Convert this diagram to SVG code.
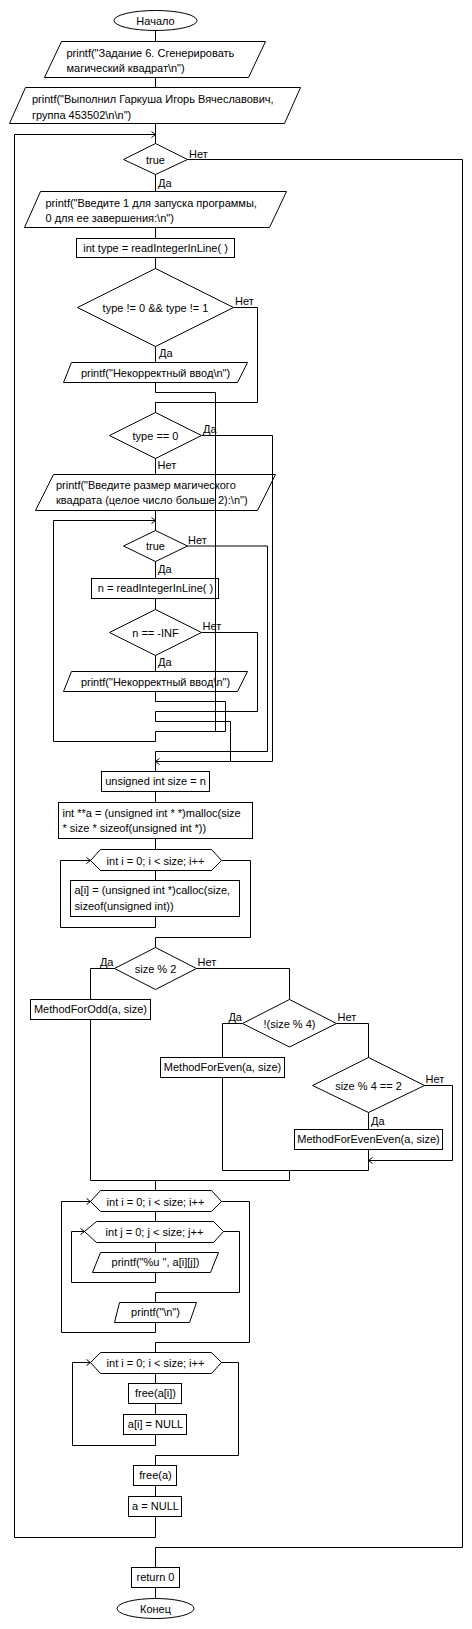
<svg xmlns="http://www.w3.org/2000/svg" width="472" height="1629" viewBox="0 0 472 1629">
<defs>
<style>
.s{fill:none;stroke:#000;stroke-width:1}
.c{fill:none;stroke:#000;stroke-width:1}
text{font-family:"Liberation Sans",Arial,sans-serif;font-size:11px;fill:#000}
.m{text-anchor:middle}
.e{text-anchor:end}
</style>
<marker id="arr" viewBox="-5 -4 6 8" refX="0" refY="0" markerWidth="6" markerHeight="8" markerUnits="userSpaceOnUse" orient="auto">
<path d="M-4,-3 L0,0 L-4,3" fill="none" stroke="#000" stroke-width="1"/>
</marker>
</defs>
<rect x="0" y="0" width="472" height="1629" fill="#fff"/>

<g id="connectors">
<polyline class="c" points="155.5,30.5 155.5,41.5"/>
<polyline class="c" points="155.5,77.5 155.5,87.5"/>
<polyline class="c" points="155.5,123.5 155.5,143.5"/>
<polyline class="c" points="155.5,174.5 155.5,191.5"/>
<polyline class="c" points="155.5,227.5 155.5,238.5"/>
<polyline class="c" points="155.5,257.5 155.5,268.5"/>
<polyline class="c" points="155.5,346.5 155.5,362.5"/>
<polyline class="c" points="233.5,307.5 257.5,307.5 257.5,402.5 155.5,402.5 155.5,412.5"/>
<polyline class="c" points="155.5,382.5 155.5,392.5 215.5,392.5 215.5,731.5"/>
<polyline class="c" points="201.5,435.5 272.5,435.5 272.5,761.5 155.5,761.5" marker-end="url(#arr)"/>
<polyline class="c" points="155.5,458.5 155.5,474.5"/>
<polyline class="c" points="155.5,510.5 155.5,530.5"/>
<polyline class="c" points="187.5,546 267.5,546 267.5,751.5 155.5,751.5"/>
<polyline class="c" points="155.5,561.5 155.5,578.5"/>
<polyline class="c" points="155.5,598.5 155.5,609.5"/>
<polyline class="c" points="201.5,632.5 257.5,632.5 257.5,711.5 155.5,711.5 155.5,721.5 230.5,721.5 230.5,761.5"/>
<polyline class="c" points="155.5,655.5 155.5,671.5"/>
<polyline class="c" points="155.5,691.5 155.5,701.5 225.5,701.5 225.5,731.5"/>
<polyline class="c" points="225.5,731.5 155.5,731.5 155.5,741.5 53.5,741.5 53.5,520.5 155.5,520.5" marker-end="url(#arr)"/>
<polyline class="c" points="155.5,751.5 155.5,771.5"/>
<polyline class="c" points="155.5,791.5 155.5,802.5"/>
<polyline class="c" points="155.5,838.5 155.5,849.5"/>
<polyline class="c" points="155.5,870.5 155.5,880.5"/>
<polyline class="c" points="155.5,916.5 155.5,927.5 60.5,927.5 60.5,860.5 90.5,860.5" marker-end="url(#arr)"/>
<polyline class="c" points="221.5,860.5 250.5,860.5 250.5,937.5 155.5,937.5 155.5,947.5"/>
<polyline class="c" points="114.5,968.5 90.5,968.5 90.5,999.5"/>
<polyline class="c" points="196.5,968.5 289.5,968.5 289.5,999.5"/>
<polyline class="c" points="90.5,1019.5 90.5,1180.5 289.5,1180.5"/>
<polyline class="c" points="242.5,1023.5 222.5,1023.5 222.5,1057.5"/>
<polyline class="c" points="336.5,1023.5 368.5,1023.5 368.5,1057.5"/>
<polyline class="c" points="222.5,1077.5 222.5,1170.5 368.5,1170.5"/>
<polyline class="c" points="424.5,1085.5 452.5,1085.5 452.5,1160.5 368.5,1160.5" marker-end="url(#arr)"/>
<polyline class="c" points="368.5,1112.5 368.5,1129.5"/>
<polyline class="c" points="368.5,1149.5 368.5,1170.5"/>
<polyline class="c" points="289.5,1170.5 289.5,1180.5"/>
<polyline class="c" points="155.5,1180.5 155.5,1190.5"/>
<polyline class="c" points="155.5,1211.5 155.5,1221.5"/>
<polyline class="c" points="155.5,1242.5 155.5,1252.5"/>
<polyline class="c" points="155.5,1272.5 155.5,1282.5 71.5,1282.5 71.5,1231.5 84.5,1231.5" marker-end="url(#arr)"/>
<polyline class="c" points="223.5,1231.5 239.5,1231.5 239.5,1292.5 155.5,1292.5 155.5,1302.5"/>
<polyline class="c" points="155.5,1322.5 155.5,1332.5 61.5,1332.5 61.5,1201.5 90.5,1201.5" marker-end="url(#arr)"/>
<polyline class="c" points="221.5,1201.5 249.5,1201.5 249.5,1342.5 155.5,1342.5 155.5,1352.5"/>
<polyline class="c" points="155.5,1373.5 155.5,1383.5"/>
<polyline class="c" points="155.5,1403.5 155.5,1414.5"/>
<polyline class="c" points="155.5,1434.5 155.5,1445.5 72.5,1445.5 72.5,1362.5 90.5,1362.5" marker-end="url(#arr)"/>
<polyline class="c" points="221.5,1362.5 238.5,1362.5 238.5,1455.5 155.5,1455.5 155.5,1465.5"/>
<polyline class="c" points="155.5,1485.5 155.5,1496.5"/>
<polyline class="c" points="155.5,1516.5 155.5,1537.5 14.5,1537.5 14.5,134.5 155.5,134.5" marker-end="url(#arr)"/>
<polyline class="c" points="187.5,159.5 462.5,159.5 462.5,1547.5 155.5,1547.5 155.5,1567.5"/>
<polyline class="c" points="155.5,1587.5 155.5,1598.5"/>
<text x="189" y="157.5">Нет</text>
<text x="158" y="186.5">Да</text>
<text x="235" y="305">Нет</text>
<text x="159" y="357">Да</text>
<text x="203" y="433">Да</text>
<text x="157.5" y="469">Нет</text>
<text x="188" y="544">Нет</text>
<text x="158" y="573">Да</text>
<text x="202.5" y="630">Нет</text>
<text x="158" y="666">Да</text>
<text class="e" x="113.5" y="966">Да</text>
<text x="197.5" y="966">Нет</text>
<text class="e" x="242" y="1021">Да</text>
<text x="337.5" y="1021">Нет</text>
<text x="425.5" y="1083">Нет</text>
<text x="371" y="1125">Да</text>
</g>

<g id="start"><ellipse class="s" cx="155.5" cy="20.5" rx="41.5" ry="10"/><text class="m" x="155.5" y="24.5">Начало</text></g>
<g id="out1"><polygon class="s" points="61.5,41.5 265.5,41.5 248.5,77.5 44.5,77.5"/><text x="66.5" y="56.5">printf("Задание 6. Сгенерировать</text><text x="66.5" y="72">магический квадрат\n")</text></g>
<g id="out2"><polygon class="s" points="25.5,87.5 300.5,87.5 284.5,123.5 9.5,123.5"/><text x="32" y="103">printf("Выполнил Гаркуша Игорь Вячеславович,</text><text x="32" y="118.5">группа 453502\n\n")</text></g>
<g id="loop1"><polygon class="s" points="123.5,159.5 155.5,143.5 187.5,159.5 155.5,174.5"/><text class="m" x="155.5" y="163.5">true</text></g>
<g id="out3"><polygon class="s" points="40.5,191.5 286.5,191.5 269.5,227.5 24.5,227.5"/><text x="45.5" y="206.5">printf("Введите 1 для запуска программы,</text><text x="45.5" y="221.5">0 для ее завершения:\n")</text></g>
<g id="readType"><rect class="s" x="76.5" y="238.5" width="158" height="19"/><text class="m" x="155.5" y="251.5">int type = readIntegerInLine( )</text></g>
<g id="checkType"><polygon class="s" points="77.5,307.5 155.5,268.5 233.5,307.5 155.5,346.5"/><text class="m" x="155.5" y="311.5">type != 0 &amp;&amp; type != 1</text></g>
<g id="err1"><polygon class="s" points="71.5,362.5 247.5,362.5 237.5,382.5 63.5,382.5"/><text class="m" x="155.5" y="376.5">printf("Некорректный ввод\n")</text></g>
<g id="typeZero"><polygon class="s" points="109.5,435.5 155.5,412.5 201.5,435.5 155.5,458.5"/><text class="m" x="155.5" y="439.5">type == 0</text></g>
<g id="out4"><polygon class="s" points="53.5,474.5 275.5,474.5 257.5,510.5 35.5,510.5"/><text x="56" y="488.5">printf("Введите размер магического</text><text x="56" y="503.5">квадрата (целое число больше 2):\n")</text></g>
<g id="loop2"><polygon class="s" points="123.5,546 155.5,530.5 187.5,546 155.5,561.5"/><text class="m" x="155.5" y="550">true</text></g>
<g id="readN"><rect class="s" x="91.5" y="578.5" width="127" height="20"/><text class="m" x="155.5" y="592">n = readIntegerInLine( )</text></g>
<g id="checkN"><polygon class="s" points="109.5,632.5 155.5,609.5 201.5,632.5 155.5,655.5"/><text class="m" x="155.5" y="636.5">n == -INF</text></g>
<g id="err2"><polygon class="s" points="71.5,671.5 247.5,671.5 237.5,691.5 63.5,691.5"/><text class="m" x="155.5" y="685.5">printf("Некорректный ввод\n")</text></g>
<g id="sizeN"><rect class="s" x="101.5" y="771.5" width="108" height="20"/><text class="m" x="155.5" y="785">unsigned int size = n</text></g>
<g id="mallocA"><rect class="s" x="58.5" y="802.5" width="194" height="36"/><text x="62.5" y="816.5">int **a = (unsigned int * *)malloc(size</text><text x="62.5" y="831.5">* size * sizeof(unsigned int *))</text></g>
<g id="forAlloc"><polygon class="s" points="90.5,860.5 100.5,849.5 211.5,849.5 221.5,860.5 211.5,870.5 100.5,870.5"/><text class="m" x="155.5" y="864.5">int i = 0; i &lt; size; i++</text></g>
<g id="callocRow"><rect class="s" x="70.5" y="880.5" width="169" height="36"/><text x="74.5" y="894">a[i] = (unsigned int *)calloc(size,</text><text x="74.5" y="909.5">sizeof(unsigned int))</text></g>
<g id="odd"><polygon class="s" points="114.5,968.5 155.5,947.5 196.5,968.5 155.5,989.5"/><text class="m" x="155.5" y="972.5">size % 2</text></g>
<g id="methodOdd"><rect class="s" x="30.5" y="999.5" width="120" height="20"/><text class="m" x="90.5" y="1013">MethodForOdd(a, size)</text></g>
<g id="div4"><polygon class="s" points="242.5,1023.5 289.5,999.5 336.5,1023.5 289.5,1047"/><text class="m" x="289.5" y="1027.5">!(size % 4)</text></g>
<g id="methodEven"><rect class="s" x="160.5" y="1057.5" width="124" height="20"/><text class="m" x="222.5" y="1071">MethodForEven(a, size)</text></g>
<g id="mod4"><polygon class="s" points="312.5,1085.5 368.5,1057.5 424.5,1085.5 368.5,1112.5"/><text class="m" x="368.5" y="1089.5">size % 4 == 2</text></g>
<g id="methodEvenEven"><rect class="s" x="294.5" y="1129.5" width="148" height="20"/><text class="m" x="368.5" y="1143">MethodForEvenEven(a, size)</text></g>
<g id="forPrintI"><polygon class="s" points="90.5,1201.5 100.5,1190.5 211.5,1190.5 221.5,1201.5 211.5,1211.5 100.5,1211.5"/><text class="m" x="155.5" y="1205.5">int i = 0; i &lt; size; i++</text></g>
<g id="forPrintJ"><polygon class="s" points="84.5,1231.5 96.5,1221.5 213.5,1221.5 223.5,1231.5 213.5,1242.5 96.5,1242.5"/><text class="m" x="154.5" y="1235.5">int j = 0; j &lt; size; j++</text></g>
<g id="printCell"><polygon class="s" points="100.5,1252.5 218.5,1252.5 210.5,1272.5 92.5,1272.5"/><text class="m" x="155.5" y="1266">printf("%u ", a[i][j])</text></g>
<g id="printNl"><polygon class="s" points="119.5,1302.5 196.5,1302.5 189.5,1322.5 114.5,1322.5"/><text class="m" x="155.5" y="1316">printf("\n")</text></g>
<g id="forFree"><polygon class="s" points="90.5,1362.5 100.5,1352.5 211.5,1352.5 221.5,1362.5 211.5,1373.5 100.5,1373.5"/><text class="m" x="155.5" y="1366.5">int i = 0; i &lt; size; i++</text></g>
<g id="freeRow"><rect class="s" x="128.5" y="1383.5" width="53" height="20"/><text class="m" x="155.5" y="1397">free(a[i])</text></g>
<g id="nullRow"><rect class="s" x="123.5" y="1414.5" width="63" height="20"/><text class="m" x="155.5" y="1428">a[i] = NULL</text></g>
<g id="freeA"><rect class="s" x="133.5" y="1465.5" width="43" height="20"/><text class="m" x="155.5" y="1479">free(a)</text></g>
<g id="nullA"><rect class="s" x="128.5" y="1496.5" width="53" height="20"/><text class="m" x="155.5" y="1510">a = NULL</text></g>
<g id="ret"><rect class="s" x="131.5" y="1567.5" width="48" height="20"/><text class="m" x="155.5" y="1581">return 0</text></g>
<g id="end"><ellipse class="s" cx="155.5" cy="1608.5" rx="38.5" ry="10"/><text class="m" x="155.5" y="1612.5">Конец</text></g>
</svg>
